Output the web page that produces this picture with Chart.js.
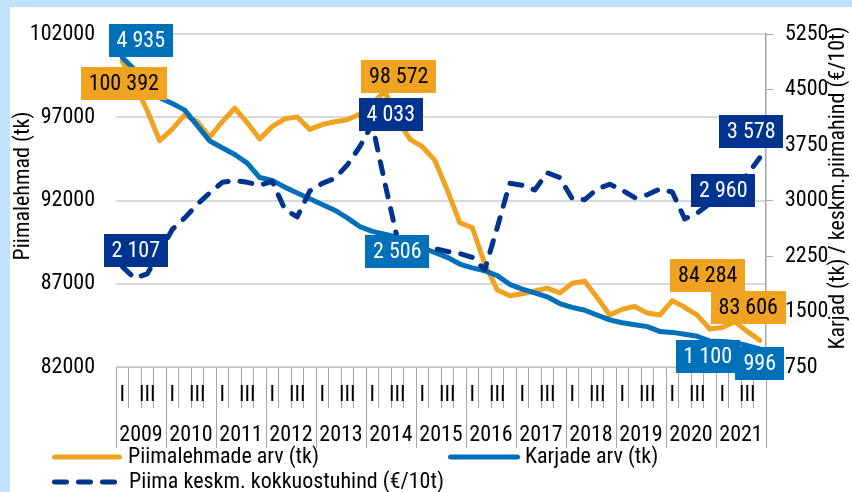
<!DOCTYPE html>
<html><head><meta charset="utf-8">
<script src="https://cdn.jsdelivr.net/npm/chart.js@4.4.1/dist/chart.umd.min.js"></script>
<style>html,body{margin:0;padding:0;background:#fff}#wrap{width:852px;height:492px;position:relative}</style>
</head><body><div id="wrap"><canvas id="c" width="852" height="492"></canvas></div>
<script>
// ---- data ----
const years = ['2009','2010','2011','2012','2013','2014','2015','2016','2017','2018','2019','2020','2021'];
const quarters = ['I','II','III','IV'];
const quarterTickLabels = ['I','','III',''];

const cows = [100392, 99000, 97400, 95600,
  96300, 97150, 96740, 95820,
  96740, 97550, 96680, 95700,
  96450, 96910, 97030, 96280,
  96570, 96740, 96860, 97200,
  97840, 98572, 96900, 95700,
  95240, 94430, 92640, 90670,
  90380, 88190, 86630, 86280,
  86400, 86570, 86740, 86450,
  87030, 87150, 86160, 85120,
  85470, 85640, 85240, 85120,
  85990, 85590, 85120, 84284,
  84370, 84720, 84140, 83606];

const herds = [4935, 4769, 4574, 4392,
  4314, 4223, 4014, 3806,
  3715, 3624, 3507, 3312,
  3273, 3182, 3104, 3026,
  2948, 2870, 2766, 2649,
  2584, 2545, 2506, 2454,
  2363, 2298, 2233, 2142,
  2090, 2051, 1986, 1868,
  1803, 1751, 1699, 1608,
  1556, 1517, 1452, 1387,
  1348, 1322, 1296, 1231,
  1218, 1192, 1166, 1100,
  1095, 1080, 1040, 996];

const price = [2107, 1950, 2010, 2300,
  2610, 2766, 2948, 3104,
  3247, 3273, 3247, 3208,
  3260, 2883, 2779, 3130,
  3234, 3299, 3481, 3728,
  4033, 3247, 2490, 2454,
  2389, 2350, 2311, 2285,
  2233, 2064, 2636, 3234,
  3208, 3143, 3377, 3312,
  3026, 3013, 3156, 3221,
  3143, 3039, 3078, 3156,
  3117, 2753, 2831, 2960,
  3078, 3208, 3351, 3578];

const leftTicks = {min: 82000, max: 102000, step: 5000};
const rightTicks = {min: 750, max: 5250, step: 750};

// ---- styling ----
const ORANGE = '#F0A221', BLUE = '#0070B8', NAVY = '#00338D', BORDERBG = '#BEE3FA';
const FONT = "'Roboto Condensed','Liberation Sans Narrow','Arial Narrow','DejaVu Sans Condensed',sans-serif";
const FS = 22;

const labels = [];
years.forEach(y => quarters.forEach(q => labels.push(y + ' ' + q)));

// data label placement (offsets from point, px)
const labelSpecs = [
  {ds:1, i:0,  dx:18.5, dy:-16.5},
  {ds:0, i:0,  dx:1.5,  dy:22.5},
  {ds:2, i:0,  dx:13.5, dy:-16.5},
  {ds:0, i:21, dx:14,   dy:-15},
  {ds:2, i:20, dx:18.5, dy:-10},
  {ds:1, i:22, dx:0,    dy:14.5},
  {ds:0, i:47, dx:-2,   dy:-53},
  {ds:1, i:47, dx:-2,   dy:15},
  {ds:2, i:47, dx:13.5, dy:-13.5},
  {ds:0, i:51, dx:-11.5,dy:-32.5},
  {ds:2, i:51, dx:-8.5, dy:-26},
  {ds:1, i:51, dx:0,    dy:14.5}
];
const fmt = v => String(v).replace(/\B(?=(\d{3})+(?!\d))/g, ' ');

Chart.defaults.font.family = FONT;
Chart.defaults.font.size = FS;
Chart.defaults.color = '#000';

const bgPlugin = {
  id: 'bg',
  beforeDraw(chart) {
    const ctx = chart.ctx;
    ctx.save();
    ctx.fillStyle = BORDERBG;
    ctx.fillRect(0, 0, chart.width, chart.height);
    ctx.fillStyle = '#fff';
    ctx.fillRect(10, 7, chart.width - 10, chart.height - 7);
    ctx.restore();
  }
};

const dataLabelPlugin = {
  id: 'dlabels',
  afterDatasetsDraw(chart) {
    const ctx = chart.ctx;
    ctx.save();
    ctx.font = FS + 'px ' + FONT;
    ctx.textAlign = 'center';
    ctx.textBaseline = 'middle';
    labelSpecs.forEach(s => {
      const ds = chart.data.datasets[s.ds];
      const pt = chart.getDatasetMeta(s.ds).data[s.i];
      const txt = fmt(ds.data[s.i]);
      const w = ctx.measureText(txt).width + 16, h = 33;
      const cx = pt.x + s.dx, cy = pt.y + s.dy;
      ctx.fillStyle = ds.borderColor;
      ctx.fillRect(Math.round(cx - w/2), Math.round(cy - h/2), Math.round(w), h);
      ctx.fillStyle = ds.borderColor === ORANGE ? '#000' : '#fff';
      ctx.fillText(txt, cx, cy + 1);
    });
    ctx.restore();
  }
};

const decorPlugin = {
  id: 'decor',
  afterDraw(chart) {
    const ctx = chart.ctx;
    const ds = chart.data.datasets;
    ctx.save();
    ctx.font = FS + 'px ' + FONT;
    ctx.fillStyle = '#000';
    ctx.textBaseline = 'middle';
    ctx.textAlign = 'center';
    // axis titles
    ctx.save(); ctx.translate(23, 186); ctx.rotate(-Math.PI/2);
    ctx.fillText('Piimalehmad (tk)', 0, 0); ctx.restore();
    ctx.save(); ctx.translate(838, 188); ctx.rotate(-Math.PI/2);
    ctx.fillText('Karjad (tk) / keskm.piimahind (€/10t)', 0, 0); ctx.restore();
    // legend
    ctx.textAlign = 'left';
    const items = [
      {d: ds[0], x1: 52, x2: 122, y: 457, tx: 128},
      {d: ds[1], x1: 448, x2: 520, y: 457, tx: 525},
      {d: ds[2], x1: 52, x2: 117, y: 482, tx: 129}
    ];
    items.forEach(it => {
      ctx.save();
      ctx.strokeStyle = it.d.borderColor;
      ctx.lineWidth = 5;
      ctx.lineCap = 'round';
      ctx.setLineDash(it.d.borderDash || []);
      ctx.beginPath();
      ctx.moveTo(it.x1 + 2.5, it.y);
      ctx.lineTo(it.x2 - 2.5, it.y);
      ctx.stroke();
      ctx.restore();
      ctx.fillText(it.d.label, it.tx, it.y);
    });
    ctx.restore();
  }
};

new Chart(document.getElementById('c'), {
  type: 'line',
  data: {
    labels: labels,
    datasets: [
      {label: 'Piimalehmade arv (tk)', data: cows, yAxisID: 'y', xAxisID: 'x',
       borderColor: ORANGE, backgroundColor: ORANGE, borderWidth: 5, pointRadius: 0,
       tension: 0, borderJoinStyle: 'round', borderCapStyle: 'round', order: 2},
      {label: 'Karjade arv (tk)', data: herds, yAxisID: 'y1', xAxisID: 'x',
       borderColor: BLUE, backgroundColor: BLUE, borderWidth: 5, pointRadius: 0,
       tension: 0, borderJoinStyle: 'round', borderCapStyle: 'round', order: 1},
      {label: 'Piima keskm. kokkuostuhind (€/10t)', data: price, yAxisID: 'y1', xAxisID: 'x',
       borderColor: NAVY, backgroundColor: NAVY, borderWidth: 5, pointRadius: 0, borderDash: [12, 12],
       tension: 0, borderJoinStyle: 'round', borderCapStyle: 'round', order: 0}
    ]
  },
  options: {
    responsive: false,
    animation: false,
    devicePixelRatio: 1,
    layout: {padding: {top: 21, bottom: 44, left: 0, right: 0}},
    plugins: {legend: {display: false}, tooltip: {enabled: false}},
    scales: {
      x: {
        type: 'category', position: 'bottom', offset: true, weight: 1,
        grid: {offset: true, drawOnChartArea: false, tickLength: 41, color: '#A6A6A6', lineWidth: 1},
        border: {display: true, color: '#BFBFBF', width: 1},
        ticks: {autoSkip: false, maxRotation: 0, minRotation: 0, padding: -26,
                callback: (v, i) => quarterTickLabels[i % 4]},
        afterFit(s) { s.height = 41; }
      },
      x2: {
        type: 'category', position: 'bottom', labels: years, offset: true, weight: 2,
        grid: {offset: true, drawOnChartArea: false, tickLength: 40, color: '#A6A6A6', lineWidth: 1},
        border: {display: false},
        ticks: {autoSkip: false, maxRotation: 0, minRotation: 0, padding: -26},
        afterFit(s) { s.height = 40; }
      },
      y: {
        type: 'linear', position: 'left', min: leftTicks.min, max: leftTicks.max,
        ticks: {stepSize: leftTicks.step, padding: 21, callback: v => String(v)},
        grid: {color: '#D9D9D9', lineWidth: 2, drawTicks: false},
        border: {display: false},
        afterFit(s) { s.width = 116; }
      },
      y1: {
        type: 'linear', position: 'right', min: rightTicks.min, max: rightTicks.max,
        ticks: {stepSize: rightTicks.step, padding: 12, callback: v => String(v)},
        grid: {drawOnChartArea: false, tickLength: 7, color: '#A6A6A6'},
        border: {display: true, color: '#A6A6A6', width: 1.5},
        afterFit(s) { s.width = 86; }
      }
    }
  },
  plugins: [bgPlugin, dataLabelPlugin, decorPlugin]
});
</script>
</body></html>
